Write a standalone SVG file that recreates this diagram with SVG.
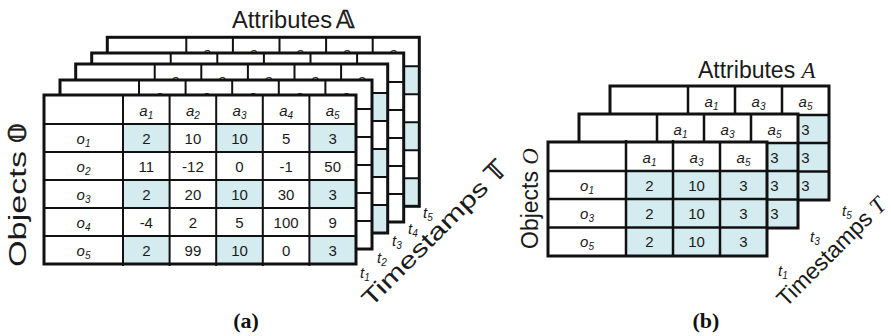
<svg xmlns="http://www.w3.org/2000/svg" width="891" height="336" viewBox="0 0 891 336">
  <style>
    .bg { fill: #ffffff; }
    .hi { fill: #d4ecf0; }
    .grid { fill: none; stroke: #111111; stroke-width: 2; }
    .gridb { fill: none; stroke: #111111; stroke-width: 2.5; }
    .border { fill: none; stroke: #111111; stroke-width: 3; }
    .num { font-family: "Liberation Sans", Arial, sans-serif; font-size: 15px; text-anchor: middle; fill: #1a1a1a; }
    .lab { font-family: "Liberation Sans", Arial, sans-serif; font-style: italic; font-size: 15px; text-anchor: middle; fill: #1a1a1a; }
    .sub { font-size: 10px; }
    .tl { font-family: "Liberation Sans", Arial, sans-serif; font-style: italic; font-size: 15px; fill: #1a1a1a; }
    .title { font-family: "Liberation Sans", Arial, sans-serif; font-size: 23px; fill: #1a1a1a; }
    .ds { font-family: "DejaVu Sans", "DejaVu Serif", sans-serif; font-size: 25px; fill: #1a1a1a; stroke: #1a1a1a; stroke-width: 0.7; }
    .mi { font-family: "Liberation Serif", "Times New Roman", serif; font-style: italic; }
    .cap { font-family: "Liberation Serif", "Times New Roman", serif; font-weight: bold; font-size: 22px; text-anchor: middle; fill: #111111; }
  </style>

  <!-- (a): full cube, five timestamp slices drawn back to front -->
  <g id="a-t5" transform="translate(107.3,37.3)">
    <rect class="bg" width="312" height="169"/>
    <rect class="hi" x="265.4" y="29" width="46.6" height="28"/>
    <rect class="hi" x="265.4" y="85" width="46.6" height="28"/>
    <rect class="hi" x="265.4" y="141" width="46.6" height="28"/>
    <path class="grid" d="M79 0V169M125.6 0V169M172.2 0V169M218.8 0V169M265.4 0V169M0 29H312M0 57H312M0 85H312M0 113H312M0 141H312"/>
    <rect class="border" width="312" height="169"/>
    <text class="lab" x="102.3" y="21">a<tspan class="sub" dy="3">1</tspan></text>
    <text class="lab" x="148.9" y="21">a<tspan class="sub" dy="3">2</tspan></text>
    <text class="lab" x="195.5" y="21">a<tspan class="sub" dy="3">3</tspan></text>
    <text class="lab" x="242.1" y="21">a<tspan class="sub" dy="3">4</tspan></text>
    <text class="lab" x="288.7" y="21">a<tspan class="sub" dy="3">5</tspan></text>
  </g>
  <g id="a-t4" transform="translate(91.7,53)">
    <rect class="bg" width="312" height="169"/>
    <path class="grid" d="M79 0V169M125.6 0V169M172.2 0V169M218.8 0V169M265.4 0V169M0 29H312M0 57H312M0 85H312M0 113H312M0 141H312"/>
    <rect class="border" width="312" height="169"/>
  </g>
  <g id="a-t3" transform="translate(75.7,64)">
    <rect class="bg" width="312" height="169"/>
    <rect class="hi" x="265.4" y="29" width="46.6" height="28"/>
    <rect class="hi" x="265.4" y="85" width="46.6" height="28"/>
    <rect class="hi" x="265.4" y="141" width="46.6" height="28"/>
    <path class="grid" d="M79 0V169M125.6 0V169M172.2 0V169M218.8 0V169M265.4 0V169M0 29H312M0 57H312M0 85H312M0 113H312M0 141H312"/>
    <rect class="border" width="312" height="169"/>
    <text class="lab" x="102.3" y="21">a<tspan class="sub" dy="3">1</tspan></text>
    <text class="lab" x="148.9" y="21">a<tspan class="sub" dy="3">2</tspan></text>
    <text class="lab" x="195.5" y="21">a<tspan class="sub" dy="3">3</tspan></text>
    <text class="lab" x="242.1" y="21">a<tspan class="sub" dy="3">4</tspan></text>
    <text class="lab" x="288.7" y="21">a<tspan class="sub" dy="3">5</tspan></text>
  </g>
  <g id="a-t2" transform="translate(60,80)">
    <rect class="bg" width="312" height="169"/>
    <path class="grid" d="M79 0V169M125.6 0V169M172.2 0V169M218.8 0V169M265.4 0V169M0 29H312M0 57H312M0 85H312M0 113H312M0 141H312"/>
    <rect class="border" width="312" height="169"/>
    <text class="lab" x="102.3" y="21">a<tspan class="sub" dy="3">1</tspan></text>
    <text class="lab" x="148.9" y="21">a<tspan class="sub" dy="3">2</tspan></text>
    <text class="lab" x="195.5" y="21">a<tspan class="sub" dy="3">3</tspan></text>
    <text class="lab" x="242.1" y="21">a<tspan class="sub" dy="3">4</tspan></text>
    <text class="lab" x="288.7" y="21">a<tspan class="sub" dy="3">5</tspan></text>
  </g>
  <g id="a-t1" transform="translate(44,95)">
    <rect class="bg" width="312" height="169"/>
    <path class="hi" d="M79 29h46.6v28h-46.6zM172.2 29h46.6v28h-46.6zM265.4 29h46.6v28h-46.6zM79 85h46.6v28h-46.6zM172.2 85h46.6v28h-46.6zM265.4 85h46.6v28h-46.6zM79 141h46.6v28h-46.6zM172.2 141h46.6v28h-46.6zM265.4 141h46.6v28h-46.6z"/>
    <path class="grid" d="M79 0V171M125.6 0V171M172.2 0V171M218.8 0V171M265.4 0V171M0 29H312M0 57H312M0 85H312M0 113H312M0 141H312"/>
    <rect class="border" width="312" height="169"/>
    <text class="lab" x="102.3" y="21">a<tspan class="sub" dy="3">1</tspan></text>
    <text class="lab" x="148.9" y="21">a<tspan class="sub" dy="3">2</tspan></text>
    <text class="lab" x="195.5" y="21">a<tspan class="sub" dy="3">3</tspan></text>
    <text class="lab" x="242.1" y="21">a<tspan class="sub" dy="3">4</tspan></text>
    <text class="lab" x="288.7" y="21">a<tspan class="sub" dy="3">5</tspan></text>
    <text class="lab" x="39.5" y="48.5">o<tspan class="sub" dy="3">1</tspan></text>
    <text class="lab" x="39.5" y="76.5">o<tspan class="sub" dy="3">2</tspan></text>
    <text class="lab" x="39.5" y="104.5">o<tspan class="sub" dy="3">3</tspan></text>
    <text class="lab" x="39.5" y="132.5">o<tspan class="sub" dy="3">4</tspan></text>
    <text class="lab" x="39.5" y="160.5">o<tspan class="sub" dy="3">5</tspan></text>
    <g class="num">
      <text x="102.3" y="48.5">2</text><text x="148.9" y="48.5">10</text><text x="195.5" y="48.5">10</text><text x="242.1" y="48.5">5</text><text x="288.7" y="48.5">3</text>
      <text x="102.3" y="76.5">11</text><text x="148.9" y="76.5">-12</text><text x="195.5" y="76.5">0</text><text x="242.1" y="76.5">-1</text><text x="288.7" y="76.5">50</text>
      <text x="102.3" y="104.5">2</text><text x="148.9" y="104.5">20</text><text x="195.5" y="104.5">10</text><text x="242.1" y="104.5">30</text><text x="288.7" y="104.5">3</text>
      <text x="102.3" y="132.5">-4</text><text x="148.9" y="132.5">2</text><text x="195.5" y="132.5">5</text><text x="242.1" y="132.5">100</text><text x="288.7" y="132.5">9</text>
      <text x="102.3" y="160.5">2</text><text x="148.9" y="160.5">99</text><text x="195.5" y="160.5">10</text><text x="242.1" y="160.5">0</text><text x="288.7" y="160.5">3</text>
    </g>
  </g>

  <!-- (a) axis labels -->
  <g id="a-axes">
    <text class="title" x="232" y="28" textLength="100" lengthAdjust="spacingAndGlyphs">Attributes</text>
    <text class="ds" x="336" y="28">&#x1D538;</text>
    <g transform="translate(26,267) rotate(-90)">
      <text class="title" x="0" y="0" textLength="116" lengthAdjust="spacingAndGlyphs">Objects</text>
      <text class="ds" x="124" y="0">&#x1D546;</text>
    </g>
    <g transform="translate(371,308) rotate(-45)">
      <text class="title" font-size="24" x="0" y="0" textLength="168" lengthAdjust="spacingAndGlyphs">Timestamps</text>
      <text class="ds" x="176" y="0">&#x1D54B;</text>
    </g>
    <text class="tl" x="360" y="278">t<tspan class="sub" dy="3">1</tspan></text>
    <text class="tl" x="377" y="263">t<tspan class="sub" dy="3">2</tspan></text>
    <text class="tl" x="392" y="246">t<tspan class="sub" dy="3">3</tspan></text>
    <text class="tl" x="408" y="234">t<tspan class="sub" dy="3">4</tspan></text>
    <text class="tl" x="423" y="218">t<tspan class="sub" dy="3">5</tspan></text>
    <text class="cap" x="246" y="328">(a)</text>
  </g>

  <!-- (b): reduced cube, three slices -->
  <g id="b-t5" transform="translate(610,86)">
    <rect class="bg" width="219" height="114"/>
    <rect class="hi" x="78" y="29" width="141" height="85"/>
    <path class="gridb" d="M78 0V114M125 0V114M172 0V114M0 29H219M0 57H219M0 85.5H219"/>
    <rect class="border" width="219" height="114"/>
    <text class="lab" x="101.5" y="20.5">a<tspan class="sub" dy="3">1</tspan></text>
    <text class="lab" x="148.5" y="20.5">a<tspan class="sub" dy="3">3</tspan></text>
    <text class="lab" x="195.5" y="20.5">a<tspan class="sub" dy="3">5</tspan></text>
    <g class="num"><text x="195.5" y="48.5">3</text><text x="195.5" y="76.5">3</text><text x="195.5" y="105">3</text></g>
  </g>
  <g id="b-t3" transform="translate(579,114)">
    <rect class="bg" width="219" height="114"/>
    <rect class="hi" x="78" y="29" width="141" height="85"/>
    <path class="gridb" d="M78 0V114M125 0V114M172 0V114M0 29H219M0 57H219M0 85.5H219"/>
    <rect class="border" width="219" height="114"/>
    <text class="lab" x="101.5" y="20.5">a<tspan class="sub" dy="3">1</tspan></text>
    <text class="lab" x="148.5" y="20.5">a<tspan class="sub" dy="3">3</tspan></text>
    <text class="lab" x="195.5" y="20.5">a<tspan class="sub" dy="3">5</tspan></text>
    <g class="num"><text x="195.5" y="48.5">3</text><text x="195.5" y="76.5">3</text><text x="195.5" y="105">3</text></g>
  </g>
  <g id="b-t1" transform="translate(548,142)">
    <rect class="bg" width="219" height="114"/>
    <rect class="hi" x="78" y="29" width="141" height="85"/>
    <path class="gridb" d="M78 -2V114M125 -2V114M172 0V114M0 29H219M0 57H219M0 85.5H219"/>
    <rect class="border" width="219" height="114"/>
    <text class="lab" x="101.5" y="20.5">a<tspan class="sub" dy="3">1</tspan></text>
    <text class="lab" x="148.5" y="20.5">a<tspan class="sub" dy="3">3</tspan></text>
    <text class="lab" x="195.5" y="20.5">a<tspan class="sub" dy="3">5</tspan></text>
    <text class="lab" x="39" y="48.5">o<tspan class="sub" dy="3">1</tspan></text>
    <text class="lab" x="39" y="76.5">o<tspan class="sub" dy="3">3</tspan></text>
    <text class="lab" x="39" y="105">o<tspan class="sub" dy="3">5</tspan></text>
    <g class="num">
      <text x="101.5" y="48.5">2</text><text x="148.5" y="48.5">10</text><text x="195.5" y="48.5">3</text>
      <text x="101.5" y="76.5">2</text><text x="148.5" y="76.5">10</text><text x="195.5" y="76.5">3</text>
      <text x="101.5" y="105">2</text><text x="148.5" y="105">10</text><text x="195.5" y="105">3</text>
    </g>
  </g>

  <!-- (b) axis labels -->
  <g id="b-axes">
    <text class="title" font-size="22" x="698" y="78">Attributes <tspan class="mi">A</tspan></text>
    <text class="title" font-size="23" transform="translate(538,249) rotate(-90)">Objects <tspan class="mi">O</tspan></text>
    <text class="title" font-size="23" transform="translate(786,308) rotate(-45)">Timestamps <tspan class="mi">T</tspan></text>
    <text class="tl" x="778" y="276">t<tspan class="sub" dy="3">1</tspan></text>
    <text class="tl" x="810" y="242">t<tspan class="sub" dy="3">3</tspan></text>
    <text class="tl" x="842" y="216">t<tspan class="sub" dy="3">5</tspan></text>
    <text class="cap" x="706" y="328">(b)</text>
  </g>
</svg>
